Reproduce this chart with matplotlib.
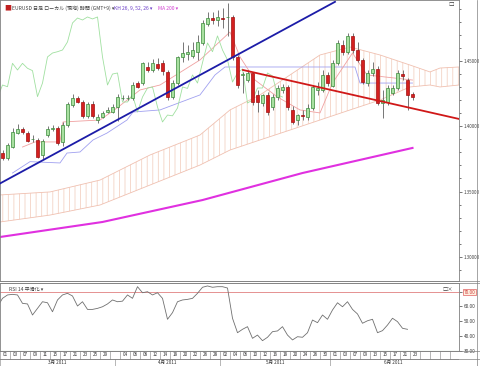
import matplotlib
matplotlib.use('Agg')
import matplotlib.pyplot as plt
import numpy as np
from matplotlib.lines import Line2D
from matplotlib.patches import Rectangle

plt.rcParams['font.family'] = ['Noto Sans CJK JP', 'DejaVu Sans']

# daily OHLC, EURUSD, 2011-03-01 .. 2011-06-23 (bar index 0..82)
opens = [1.3795, 1.3757, 1.3844, 1.3951, 1.3977, 1.3951, 1.3899, 1.3895, 1.3780, 1.3933,
         1.3980, 1.3984, 1.3882, 1.4010, 1.4163, 1.4214, 1.4188, 1.4079, 1.4168, 1.4048,
         1.4073, 1.4112, 1.4112, 1.4150, 1.4214, 1.4214, 1.4214, 1.4331, 1.4329, 1.4456,
         1.4431, 1.4475, 1.4482, 1.4418, 1.4224, 1.4331, 1.4531, 1.4554, 1.4538, 1.4569,
         1.4638, 1.4783, 1.4829, 1.4814, 1.4829, 1.4833, 1.4837, 1.4531, 1.4393, 1.4354,
         1.4408, 1.4240, 1.4178, 1.4240, 1.4148, 1.4224, 1.4278, 1.4301, 1.4125, 1.4048,
         1.4086, 1.4071, 1.4140, 1.4280, 1.4278, 1.4393, 1.4308, 1.4487, 1.4623, 1.4569,
         1.4692, 1.4584, 1.4508, 1.4331, 1.4408, 1.4439, 1.4178, 1.4188, 1.4255, 1.4293,
         1.4400, 1.4354, 1.4247]
highs = [1.3818, 1.3872, 1.3987, 1.4017, 1.3994, 1.3964, 1.3933, 1.3910, 1.3903, 1.4002,
         1.4010, 1.4002, 1.4033, 1.4186, 1.4247, 1.4232, 1.4201, 1.4186, 1.4194, 1.4094,
         1.4117, 1.4148, 1.4171, 1.4247, 1.4240, 1.4240, 1.4339, 1.4347, 1.4492, 1.4492,
         1.4515, 1.4523, 1.4508, 1.4431, 1.4354, 1.4538, 1.4646, 1.4623, 1.4646, 1.4699,
         1.4814, 1.4875, 1.4875, 1.4891, 1.4906, 1.4944, 1.4852, 1.4546, 1.4416, 1.4431,
         1.4416, 1.4278, 1.4247, 1.4263, 1.4247, 1.4316, 1.4324, 1.4316, 1.4155, 1.4094,
         1.4125, 1.4171, 1.4316, 1.4339, 1.4431, 1.4416, 1.4508, 1.4661, 1.4661, 1.4714,
         1.4714, 1.4646, 1.4523, 1.4431, 1.4492, 1.4462, 1.4278, 1.4316, 1.4316, 1.4431,
         1.4431, 1.4370, 1.4263]
lows = [1.3742, 1.3742, 1.3834, 1.3941, 1.3941, 1.3880, 1.3880, 1.3757, 1.3747, 1.3918,
        1.3964, 1.3857, 1.3849, 1.3994, 1.4148, 1.4178, 1.4063, 1.4063, 1.4063, 1.4025,
        1.4063, 1.4102, 1.4102, 1.4040, 1.4201, 1.4201, 1.4201, 1.4293, 1.4316, 1.4416,
        1.4416, 1.4431, 1.4393, 1.4201, 1.4209, 1.4316, 1.4492, 1.4508, 1.4523, 1.4508,
        1.4623, 1.4768, 1.4783, 1.4768, 1.4753, 1.4692, 1.4508, 1.4293, 1.4255, 1.4339,
        1.4163, 1.4109, 1.4155, 1.4086, 1.4125, 1.4201, 1.4255, 1.4125, 1.4017, 1.4010,
        1.4048, 1.4048, 1.4125, 1.4240, 1.4263, 1.4308, 1.4301, 1.4469, 1.4546, 1.4554,
        1.4561, 1.4492, 1.4324, 1.4308, 1.4385, 1.4163, 1.4063, 1.4163, 1.4240, 1.4278,
        1.4354, 1.4125, 1.4201]
closes = [1.3757, 1.3857, 1.3958, 1.3977, 1.3958, 1.3890, 1.3903, 1.3767, 1.3887, 1.3977,
          1.3984, 1.3870, 1.4010, 1.4168, 1.4214, 1.4188, 1.4079, 1.4168, 1.4079, 1.4073,
          1.4099, 1.4125, 1.4150, 1.4227, 1.4217, 1.4217, 1.4316, 1.4303, 1.4482, 1.4431,
          1.4482, 1.4444, 1.4426, 1.4227, 1.4331, 1.4531, 1.4561, 1.4571, 1.4584, 1.4646,
          1.4791, 1.4829, 1.4814, 1.4837, 1.4822, 1.4837, 1.4531, 1.4316, 1.4400, 1.4408,
          1.4186, 1.4186, 1.4240, 1.4109, 1.4224, 1.4293, 1.4301, 1.4148, 1.4033, 1.4086,
          1.4080, 1.4140, 1.4301, 1.4290, 1.4393, 1.4331, 1.4487, 1.4638, 1.4571, 1.4692,
          1.4584, 1.4508, 1.4339, 1.4408, 1.4439, 1.4178, 1.4201, 1.4293, 1.4293, 1.4408,
          1.4385, 1.4240, 1.4224]

# Ichimoku lines (bar index, price)
tenkan_x = [4, 6.5, 11.5, 12.1, 19.5, 22.9, 27.5, 31.5, 39.5, 45.5, 47.5, 50.5, 55, 59.5, 63.5, 66, 70, 72.9, 82]
tenkan_y = [1.3841, 1.3880, 1.3880, 1.4033, 1.4048, 1.4140, 1.4278, 1.4316, 1.4508, 1.4722,
            1.4531, 1.4354, 1.4224, 1.4125, 1.4102, 1.4331, 1.4561, 1.4393, 1.4354]
kijun_x = [2, 5.5, 11.5, 12.9, 15.5, 18.1, 20.9, 24.9, 26.1, 31.5, 39.5, 42.5, 44.5, 70.5, 71.5, 82]
kijun_y = [1.3642, 1.3729, 1.3719, 1.3795, 1.3803, 1.3895, 1.3948, 1.4048, 1.4109, 1.4125,
           1.4240, 1.4393, 1.4454, 1.4454, 1.4331, 1.4331]
cloud_x = [-0.5, 9.5, 19.5, 29.5, 39.5, 45.5, 51.5, 57.5, 63.5, 69.5, 75.5, 81.5, 85.5, 87.5, 91.3]
cloud_top = [1.3474, 1.3497, 1.3588, 1.3780, 1.3933, 1.4125, 1.4240, 1.4393, 1.4546, 1.4607,
             1.4546, 1.4469, 1.4416, 1.4446, 1.4454]
cloud_bot = [1.3267, 1.3320, 1.3397, 1.3550, 1.3703, 1.3818, 1.3895, 1.3971, 1.4048, 1.4125,
             1.4201, 1.4301, 1.4316, 1.4301, 1.4316]

# 200-day moving average
ma_x = [-0.5, 20, 40, 60, 82]
ma_y = [1.3152, 1.3267, 1.3435, 1.3642, 1.3834]

# hand-drawn trend lines (bar index, price)
blue_x = [-0.5, 66.5]
blue_y = [1.3562, 1.4953]
red_x = [48.1, 91.3]
red_y = [1.4431, 1.4056]

# RSI(14), bar index -1 .. 82
rsi = [59.8, 65.5, 67.8, 68.2, 67.8, 62.1, 61.7, 54.2, 58.7, 63.2,
       62.5, 56.4, 64.4, 67.8, 68.9, 67.1, 60.3, 63.2, 58.0, 58.0,
       58.7, 59.8, 61.7, 64.4, 63.2, 63.6, 67.8, 65.5, 73.4, 69.3,
       70.0, 67.8, 69.3, 65.5, 51.3, 55.8, 63.2, 64.4, 64.8, 65.5,
       68.9, 73.0, 73.9, 73.0, 73.4, 73.4, 72.5, 52.0, 42.2,
       44.5, 46.3, 38.4, 40.6, 36.8, 39.1, 42.9, 43.4, 46.3, 40.6,
       37.3, 39.5, 39.1, 42.2, 50.8, 49.0, 54.2, 51.3, 57.6, 62.5,
       59.8, 63.2, 58.0, 54.9, 48.6, 50.3, 51.3, 42.2, 43.6, 47.4,
       52.0, 49.7, 45.2, 44.5]

day_labels = ['01', '03', '07', '09', '11', '15', '17', '21', '23', '25', '29', '',
              '04', '06', '08', '12', '14', '18', '20', '22', '26', '28',
              '02', '04', '06', '10', '12', '16', '18', '20', '24', '26', '30',
              '01', '03', '07', '09', '13', '15', '17', '21', '23']
month_labels = ['3月 2011', '4月 2011', '5月 2011', '6月 2011']
month_starts = [0, 23, 44, 66]

W, H = 480, 366
XL = (-0.5, 91.3)
grey = '#808080'
fig = plt.figure(figsize=(4.8, 3.66), dpi=100)

# ---- main price panel
ax = fig.add_axes([0, 85 / H, 459 / W, 281 / H])
ax.set_xlim(*XL)
ax.set_ylim(1.2815, 1.4967)

plt.rcParams['hatch.linewidth'] = 0.6
ax.fill_between(cloud_x, cloud_bot, cloud_top, facecolor='none', edgecolor='#f3d2c4',
                hatch='|||', linewidth=0)
ax.plot(cloud_x, cloud_top, color='#f0c0b0', lw=0.6)
ax.plot(cloud_x, cloud_bot, color='#f0c0b0', lw=0.6)

ax.plot(ma_x, ma_y, color='#e030e0', lw=1.5)
ax.plot(kijun_x, kijun_y, color='#a0a0f0', lw=0.6)
ax.plot(tenkan_x, tenkan_y, color='#f0a0a0', lw=0.6)
ax.plot(np.arange(len(closes)) - 26, closes, color='#a0e0a0', lw=0.6)

idx = np.arange(len(closes))
for i in idx:
    o, h, l, c = opens[i], highs[i], lows[i], closes[i]
    ax.vlines(i, l, h, color='#606060', lw=0.6, zorder=3)
    up = c >= o
    fc = '#a8e0a0' if up else '#d42020'
    ec = '#3a8a3a' if up else '#a01010'
    ax.add_patch(Rectangle((i - 0.32, min(o, c)), 0.64, max(abs(c - o), 0.0004),
                           facecolor=fc, edgecolor=ec, lw=0.5, zorder=4))

ax.plot(blue_x, blue_y, color='#1c1ca8', lw=1.3, zorder=5)
ax.plot(red_x, red_y, color='#d01818', lw=1.3, zorder=5)

ax.yaxis.tick_right()
ax.set_yticks([1.30, 1.35, 1.40, 1.45])
ax.set_yticklabels(['1.30000', '1.35000', '1.40000', '1.45000'])
ax.set_yticks(np.arange(1.29, 1.50, 0.01), minor=True)
ax.tick_params(axis='y', which='major', length=2.5, width=0.5, labelsize=3.2,
               colors='#404040', pad=0.5)
ax.tick_params(axis='y', which='minor', length=1.5, width=0.5, colors='#404040')
ax.set_xticks([])
for s in ax.spines.values():
    s.set_color(grey)
    s.set_linewidth(0.6)

fig.text(4 / W, 1 - 8.5 / H, '■', color='#c02020', fontsize=5, va='center')
fig.text(12 / W, 1 - 8.5 / H, 'EURUSD 日足 ローカル (現地) 時間 (GMT+9) ▾', color='#404040',
         fontsize=3.6, va='center')
fig.text(114 / W, 1 - 8.5 / H, 'KH 26, 9, 52, 26 ▾', color='#6a3cc8', fontsize=3.6, va='center')
fig.text(158 / W, 1 - 8.5 / H, 'MA 200 ▾', color='#d040d0', fontsize=3.6, va='center')
fig.text(448 / W, 1 - 4 / H, '□', color='#404040', fontsize=4, va='center')

# ---- RSI panel
ar = fig.add_axes([0, 15 / H, 459 / W, 68 / H])
ar.set_xlim(*XL)
ar.set_ylim(29.8, 75.9)
ar.axhline(70, color='#e08080', lw=0.6)
ar.axhline(30, color='#80c080', lw=0.8)
ar.plot(np.arange(-1, len(rsi) - 1), rsi, color='#707070', lw=0.6)
ar.yaxis.tick_right()
ar.set_yticks([30, 40, 50, 60, 70])
ar.set_yticklabels(['30.00', '40.00', '50.00', '60.00', '70.00'])
ar.tick_params(axis='y', length=2.5, width=0.5, labelsize=3.4, colors='#404040', pad=0.8)
ar.get_yticklabels()[-1].set_bbox(dict(boxstyle='square,pad=0.15', fc='#fff0e0',
                                        ec='#e06060', lw=0.5))
ar.get_yticklabels()[-1].set_color('#d04040')
ar.set_xticks([])
for s in ar.spines.values():
    s.set_color(grey)
    s.set_linewidth(0.6)
ar.text(0.02, 0.9, 'RSI 14 平滑化 ▾', transform=ar.transAxes, fontsize=3.6,
        color='#404040', va='center')
ar.text(0.965, 0.9, '□×', transform=ar.transAxes, fontsize=3.8, color='#404040', va='center')

# ---- date strip
ad = fig.add_axes([0, 0, 459 / W, 15 / H])
ad.set_xlim(*XL)
ad.set_ylim(0, 2)
ad.axis('off')
ad.axhline(1, color=grey, lw=0.5)
for k, lab in enumerate(day_labels):
    ad.text(2 * k + 0.5, 1.5, lab, fontsize=3.3, ha='center', va='center', color='#303030')
for b in np.arange(-0.5, 91.3, 2):
    ad.plot([b, b], [1, 2], color=grey, lw=0.4)
for m, (lab, st) in enumerate(zip(month_labels, month_starts)):
    end = month_starts[m + 1] if m + 1 < len(month_starts) else 91.3
    ad.text((st + end - 1) / 2, 0.5, lab, fontsize=3.3, ha='center', va='center', color='#303030')
    ad.plot([st - 0.5, st - 0.5], [0, 1], color=grey, lw=0.4)

# frame lines across the whole width
for yy in [281, 283, 351, 359]:
    fig.add_artist(Line2D([0, 1], [1 - yy / H, 1 - yy / H], color=grey, lw=0.5))
fig.add_artist(Line2D([477 / W, 477 / W], [0, 1], color=grey, lw=0.5))

fig.savefig('out.png', dpi=100)
